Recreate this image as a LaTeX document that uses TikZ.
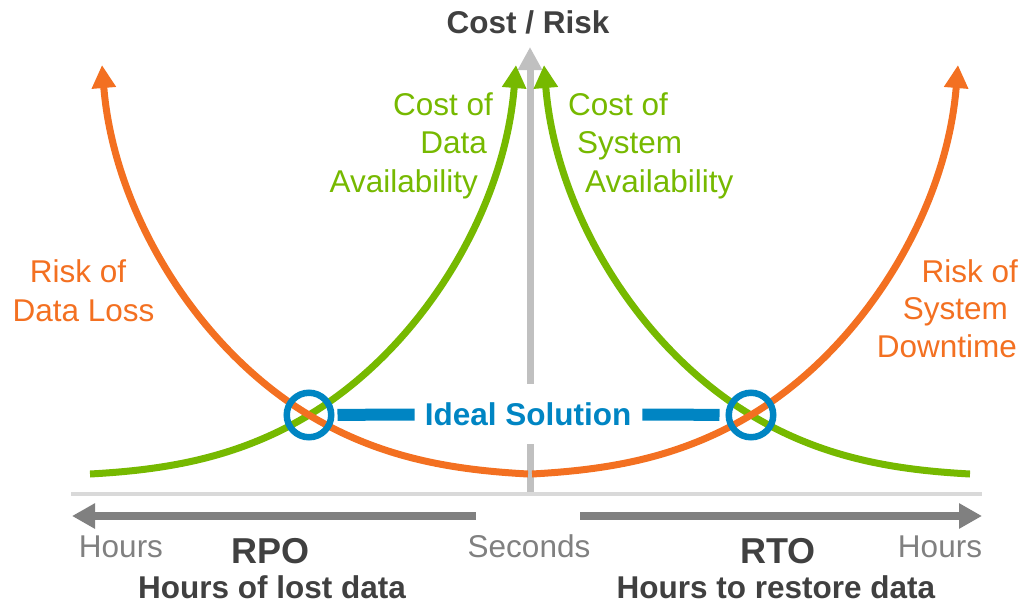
\documentclass[tikz,border=0pt]{standalone}
\usepackage{fontspec}
\setmainfont{Liberation Sans}
\usetikzlibrary{arrows.meta}

\definecolor{riskorange}{HTML}{F37021}
\definecolor{costgreen}{HTML}{76B900}
\definecolor{idealblue}{HTML}{0085C3}
\definecolor{darktext}{HTML}{404040}
\definecolor{scalegray}{HTML}{808080}
\definecolor{axisgray}{HTML}{C0C0C0}
\definecolor{rulegray}{HTML}{D9D9D9}

\newcommand{\gapbox}[1]{\hbox to #1{}}

\tikzset{
  txt/.style={font=\fontsize{31.5}{38.5}\selectfont, inner sep=0pt},
  bold/.style={txt, font=\fontsize{31.5}{38.5}\selectfont\bfseries, text=darktext},
  big/.style={bold, font=\fontsize{36}{40}\selectfont\bfseries},
  curve/.style={line width=7pt, -{Triangle[width=23pt,length=23pt]}},
  axis/.style={axisgray, line width=7pt},
  scalearrow/.style={scalegray, line width=8pt, -{Triangle[width=24pt,length=23pt]}},
  ring/.style={circle, draw=idealblue, line width=6.5pt, minimum size=44.5pt, inner sep=0pt},
  bar/.style={idealblue, line width=12pt}
}

\begin{document}
\begin{tikzpicture}[x=1pt, y=-1pt]
\useasboundingbox (0,0) rectangle (1026,603);

% base line and cost/risk axis
\draw[rulegray, line width=4pt] (71,494) -- (982,494);
\coordinate (origin) at (530,492);
\coordinate (ytop) at (530,47);
\node[bold, text=idealblue, minimum height=60pt] (ideal) at (528,414) {Ideal Solution};
\draw[axis] (origin) -- (origin |- ideal.south);
\draw[axis, -{Triangle[width=23pt,length=23pt]}] (origin |- ideal.north) -- (ytop);
\node[bold, anchor=base] (costrisk) at (528,33) {Cost / Risk};

% cost and risk curves
\foreach \cx/\sx/\col in {309/1/costgreen, 751/-1/costgreen, 309/-1/riskorange, 751/1/riskorange}
  \draw[curve, \col, shift={(\cx,415)}, xscale=\sx] (-219,59) .. controls (-146,55) and (-73,44) .. (0,0)
    .. controls (110,-66) and (195,-201) .. (207,-350);

% ideal points
\node[ring] (leftfit) at (309,415) {};
\node[ring] (rightfit) at (751,415) {};
\draw[bar, shorten <=3pt, shorten >=10pt] (leftfit) -- (ideal);
\draw[bar, shorten <=11pt, shorten >=6pt] (ideal) -- (rightfit);

% curve labels
\node[txt, text=costgreen, align=right, anchor=base east] (datacost) at (493,192)
  {Cost of\\Data\gapbox{6pt}\\Availability\gapbox{15pt}};
\node[txt, text=costgreen, align=left, anchor=base west] (systemcost) at (568,192)
  {Cost of\\\gapbox{9pt}System\\\gapbox{17pt}Availability};
\node[txt, text=riskorange, align=center, anchor=base] (datarisk) at (78,321)
  {Risk of\\\gapbox{11pt}Data Loss};
\node[txt, text=riskorange, align=right, anchor=base east, font=\fontsize{31.5}{37.5}\selectfont] (systemrisk) at (1018,357)
  {Risk of\\System\gapbox{10pt}\\Downtime\gapbox{1pt}};

% time scales
\coordinate (leftstart) at (476,516);
\coordinate (lefttip) at (72,516);
\coordinate (rightstart) at (580,516);
\coordinate (righttip) at (982,516);
\draw[scalearrow] (leftstart) -- (lefttip);
\draw[scalearrow] (rightstart) -- (righttip);
\node[txt, text=scalegray, anchor=base] (hoursleft) at (121,557) {Hours};
\node[txt, text=scalegray, anchor=base] (seconds) at (529,557) {Seconds};
\node[txt, text=scalegray, anchor=base] (hoursright) at (940,557) {Hours};
\node[big, anchor=base] (rpo) at (271,563) {RPO};
\node[bold, anchor=base] (rpotext) at (272,598) {Hours of lost data};
\node[big, anchor=base] (rto) at (778,563) {RTO};
\node[bold, anchor=base] (rtotext) at (776,598) {Hours to restore data};
\end{tikzpicture}
\end{document}
